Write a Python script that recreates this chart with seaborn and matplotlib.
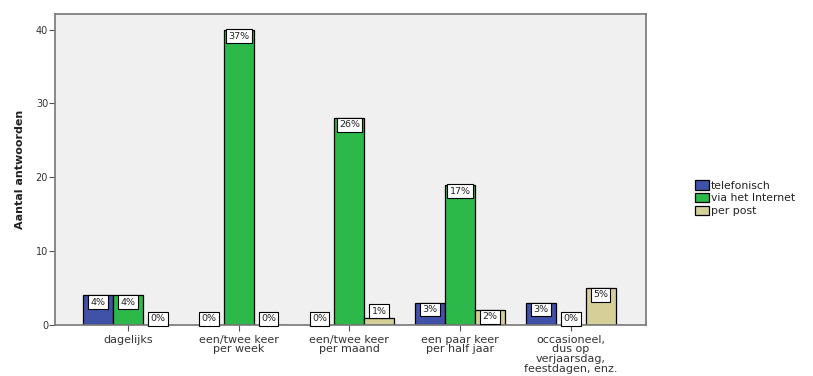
import matplotlib
matplotlib.use("Agg")
import matplotlib.pyplot as plt
import seaborn as sns
import pandas as pd

# Response counts per contact frequency and channel
categories = [
    "dagelijks",
    "een/twee keer\nper week",
    "een/twee keer\nper maand",
    "een paar keer\nper half jaar",
    "occasioneel,\ndus op\nverjaarsdag,\nfeestdagen, enz.",
]
channels = ["telefonisch", "via het Internet", "per post"]
telefonisch = [4, 0, 0, 3, 3]
internet = [4, 40, 28, 19, 0]
per_post = [0, 0, 1, 2, 5]
y_ticks = [0, 10, 20, 30, 40]

colors = ["#3F52A8", "#2DB84A", "#D5CF98"]

rows = []
for ch, vals in zip(channels, [telefonisch, internet, per_post]):
    for cat, v in zip(categories, vals):
        rows.append({"categorie": cat, "kanaal": ch, "aantal": v})
df = pd.DataFrame(rows)
total = df["aantal"].sum()

sns.set_style("white")
plt.rcParams["font.family"] = ["DejaVu Sans"]

fig = plt.figure(figsize=(8.13, 3.76), dpi=100)
ax = fig.add_axes([0.0677, 0.1356, 0.7269, 0.8272])
ax.set_facecolor("#F0F0F0")

sns.barplot(data=df, x="categorie", y="aantal", hue="kanaal",
            order=categories, hue_order=channels, palette=colors,
            width=0.81, edgecolor="black", linewidth=0.9, saturation=1,
            ax=ax, legend=True)

ax.set_xlim(-0.66, 4.68)
ax.set_ylim(0, 42.1)
ax.set_yticks(y_ticks)
ax.set_yticklabels([str(t) for t in y_ticks], fontsize=7, color="#333333")
ax.tick_params(axis="y", length=4, width=0.8, color="#555555", pad=1, left=True)
ax.tick_params(axis="x", length=4, width=0.8, color="#555555", pad=3,
               bottom=True, direction="out")
ax.set_xticks(range(len(categories)))
ax.set_xticklabels(categories, fontsize=8, color="#333333", linespacing=0.95)
ax.set_xlabel("")
ax.set_ylabel("Aantal antwoorden", fontsize=8, fontweight="bold",
              color="#222222", labelpad=8)

for side in ["left", "bottom", "top", "right"]:
    ax.spines[side].set_visible(True)
    ax.spines[side].set_color("#777777")
    ax.spines[side].set_linewidth(1.2)

# Percentage labels in boxes at the top of each bar
box_h = 1.7
for container in ax.containers:
    for patch in container.patches:
        h = patch.get_height()
        xc = patch.get_x() + patch.get_width() / 2
        pct = f"{round(h / total * 100):.0f}%"
        if h >= box_h:
            y = h - box_h / 2 - 0.05
        else:
            y = h + box_h / 2
        ax.text(xc, y, pct, ha="center", va="center", fontsize=6.8,
                color="#222222",
                bbox=dict(boxstyle="square,pad=0.25", facecolor="white",
                          edgecolor="black", linewidth=0.8))

leg = ax.legend(loc="upper left", bbox_to_anchor=(1.075, 0.48), frameon=False,
                fontsize=7.8, handlelength=1.35, handleheight=1.0,
                handletextpad=0.15, labelspacing=0.2, borderaxespad=0)
for t in leg.get_texts():
    t.set_color("#222222")

fig.savefig("out.png", dpi=100)
